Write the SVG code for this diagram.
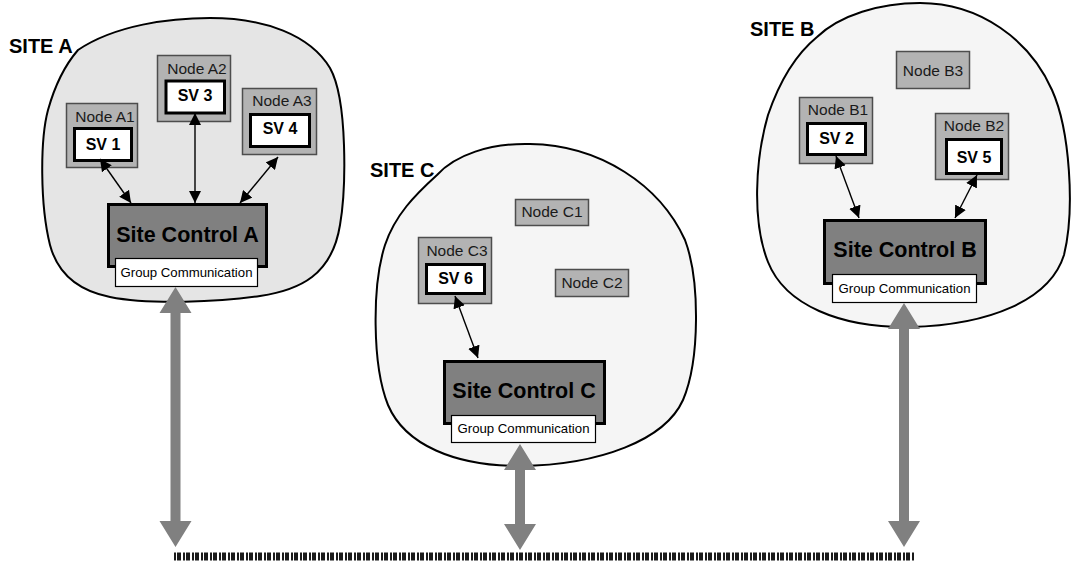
<svg xmlns="http://www.w3.org/2000/svg" width="1072" height="565" viewBox="0 0 1072 565">
  <defs>
    <style>
      .site-a { fill: #e5e5e5; stroke: #000; stroke-width: 2; }
      .site { fill: #f5f5f5; stroke: #000; stroke-width: 2; }
      .site-label { font-family: "Liberation Sans", Arial, sans-serif; font-weight: bold; font-size: 20px; fill: #000; }
      .node { fill: #b3b3b3; stroke: #4d4d4d; stroke-width: 1.5; }
      .node-label { font-family: "Liberation Sans", Arial, sans-serif; font-size: 15.5px; fill: #1a1a1a; text-anchor: middle; }
      .sv { fill: #fff; stroke: #000; stroke-width: 3; }
      .sv-label { font-family: "Liberation Sans", Arial, sans-serif; font-weight: bold; font-size: 16px; fill: #000; text-anchor: middle; }
      .ctrl { fill: #808080; stroke: #000; stroke-width: 3; }
      .ctrl-label { font-family: "Liberation Sans", Arial, sans-serif; font-weight: bold; font-size: 21.5px; fill: #000; text-anchor: middle; }
      .gc { fill: #fff; stroke: #000; stroke-width: 1.2; }
      .gc-label { font-family: "Liberation Sans", Arial, sans-serif; font-size: 13.2px; fill: #000; text-anchor: middle; }
      .link { stroke: #000; stroke-width: 1.4; fill: none; marker-start: url(#head); marker-end: url(#head); }
      .bus-link { fill: #808080; stroke: none; }
      .bus { stroke: #1a1a1a; stroke-width: 8; stroke-dasharray: 2 1 4 2; fill: none; }
    </style>
    <marker id="head" viewBox="0 0 12 12" refX="12" refY="6" markerWidth="12" markerHeight="12" markerUnits="userSpaceOnUse" orient="auto-start-reverse">
      <path d="M0,0 L12,6 L0,12 Z" fill="#000"/>
    </marker>
  </defs>

  <!-- Site outlines -->
  <g id="site-a">
    <path class="site-a" d="M78,50 C115,25 170,18 210,18 C265,18 310,35 330,68 C348,100 346,190 340,225 C332,275 300,290 260,296 C220,302 150,305 110,297 C80,291 58,275 50,245 C40,205 40,140 48,110 C55,85 65,65 78,50 Z"/>
    <text class="site-label" x="9" y="53">SITE A</text>
  </g>
  <g id="site-c">
    <path class="site" d="M437,175 C455,155 490,143 530,144 C600,145 660,185 685,240 C700,280 700,360 683,400 C665,440 600,465 520,466 C455,466 405,445 388,405 C372,365 372,285 385,245 C395,215 415,195 437,175 Z"/>
    <text class="site-label" x="370" y="177">SITE C</text>
  </g>
  <g id="site-b">
    <path class="site" d="M817,37 C840,15 880,3 920,3 C980,3 1030,40 1052,90 C1070,130 1075,210 1064,255 C1050,300 990,325 910,327 C840,328 785,305 768,262 C752,222 755,160 768,115 C780,80 795,55 817,37 Z"/>
    <text class="site-label" x="750" y="36">SITE B</text>
  </g>

  <!-- Site A nodes -->
  <g id="node-a1">
    <rect class="node" x="66.5" y="103.5" width="71" height="64"/>
    <text class="node-label" x="105" y="122">Node A1</text>
    <rect class="sv" x="74.5" y="128.5" width="57" height="32"/>
    <text class="sv-label" x="103" y="150">SV 1</text>
  </g>
  <g id="node-a2">
    <rect class="node" x="157.5" y="55.5" width="73" height="66"/>
    <text class="node-label" x="197" y="74">Node A2</text>
    <rect class="sv" x="166" y="81" width="58.5" height="32"/>
    <text class="sv-label" x="195" y="101">SV 3</text>
  </g>
  <g id="node-a3">
    <rect class="node" x="242.5" y="88.5" width="74" height="66"/>
    <text class="node-label" x="282" y="106">Node A3</text>
    <rect class="sv" x="250.5" y="114.5" width="59" height="32"/>
    <text class="sv-label" x="280" y="134">SV 4</text>
  </g>
  <g id="site-control-a">
    <rect class="ctrl" x="108.5" y="204.5" width="158" height="62"/>
    <text class="ctrl-label" x="187.5" y="242">Site Control A</text>
    <rect class="gc" x="115.5" y="258.5" width="142" height="28"/>
    <text class="gc-label" x="186.5" y="277">Group Communication</text>
  </g>

  <!-- Site C nodes -->
  <g id="node-c1">
    <rect class="node" x="515.5" y="199.5" width="73" height="26"/>
    <text class="node-label" x="552" y="217">Node C1</text>
  </g>
  <g id="node-c2">
    <rect class="node" x="555.5" y="269.5" width="73" height="27"/>
    <text class="node-label" x="592" y="288">Node C2</text>
  </g>
  <g id="node-c3">
    <rect class="node" x="418.5" y="237.5" width="73" height="66"/>
    <text class="node-label" x="457" y="256">Node C3</text>
    <rect class="sv" x="426.5" y="264.5" width="58" height="29"/>
    <text class="sv-label" x="455.5" y="284">SV 6</text>
  </g>
  <g id="site-control-c">
    <rect class="ctrl" x="444.5" y="361.5" width="160" height="62"/>
    <text class="ctrl-label" x="524" y="398">Site Control C</text>
    <rect class="gc" x="451.5" y="415.5" width="144" height="27"/>
    <text class="gc-label" x="523.5" y="433">Group Communication</text>
  </g>

  <!-- Site B nodes -->
  <g id="node-b3">
    <rect class="node" x="896.5" y="51.5" width="73" height="37"/>
    <text class="node-label" x="933" y="76">Node B3</text>
  </g>
  <g id="node-b1">
    <rect class="node" x="799.5" y="97.5" width="73" height="66"/>
    <text class="node-label" x="838" y="115">Node B1</text>
    <rect class="sv" x="807.5" y="123.5" width="58" height="31"/>
    <text class="sv-label" x="836.5" y="144">SV 2</text>
  </g>
  <g id="node-b2">
    <rect class="node" x="935.5" y="113.5" width="73" height="66"/>
    <text class="node-label" x="974" y="131">Node B2</text>
    <rect class="sv" x="946.5" y="139.5" width="55" height="34"/>
    <text class="sv-label" x="974" y="163">SV 5</text>
  </g>
  <g id="site-control-b">
    <rect class="ctrl" x="824.5" y="220.5" width="161" height="63"/>
    <text class="ctrl-label" x="905" y="257">Site Control B</text>
    <rect class="gc" x="832.5" y="274.5" width="144" height="28"/>
    <text class="gc-label" x="904.5" y="293">Group Communication</text>
  </g>

  <!-- Connectors -->
  <g id="connectors">
    <line class="link" x1="100" y1="159" x2="131" y2="203"/>
    <line class="link" x1="195" y1="113" x2="195" y2="203"/>
    <line class="link" x1="278" y1="157" x2="240" y2="203"/>
    <line class="link" x1="455" y1="296" x2="478" y2="358"/>
    <line class="link" x1="836" y1="156" x2="859" y2="218"/>
    <line class="link" x1="977" y1="175" x2="955" y2="218"/>

    <path class="bus-link" d="M175.5,287 L191.5,313 L180.5,313 L180.5,521 L191.5,521 L175.5,547 L159.5,521 L170.5,521 L170.5,313 L159.5,313 Z"/>
    <path class="bus-link" d="M520,444 L536,470 L525,470 L525,524 L536,524 L520,550 L504,524 L515,524 L515,470 L504,470 Z"/>
    <path class="bus-link" d="M904,303 L920,329 L909,329 L909,521 L920,521 L904,547 L888,521 L899,521 L899,329 L888,329 Z"/>

    <line class="bus" x1="174" y1="556.5" x2="914" y2="556.5"/>
  </g>
</svg>
